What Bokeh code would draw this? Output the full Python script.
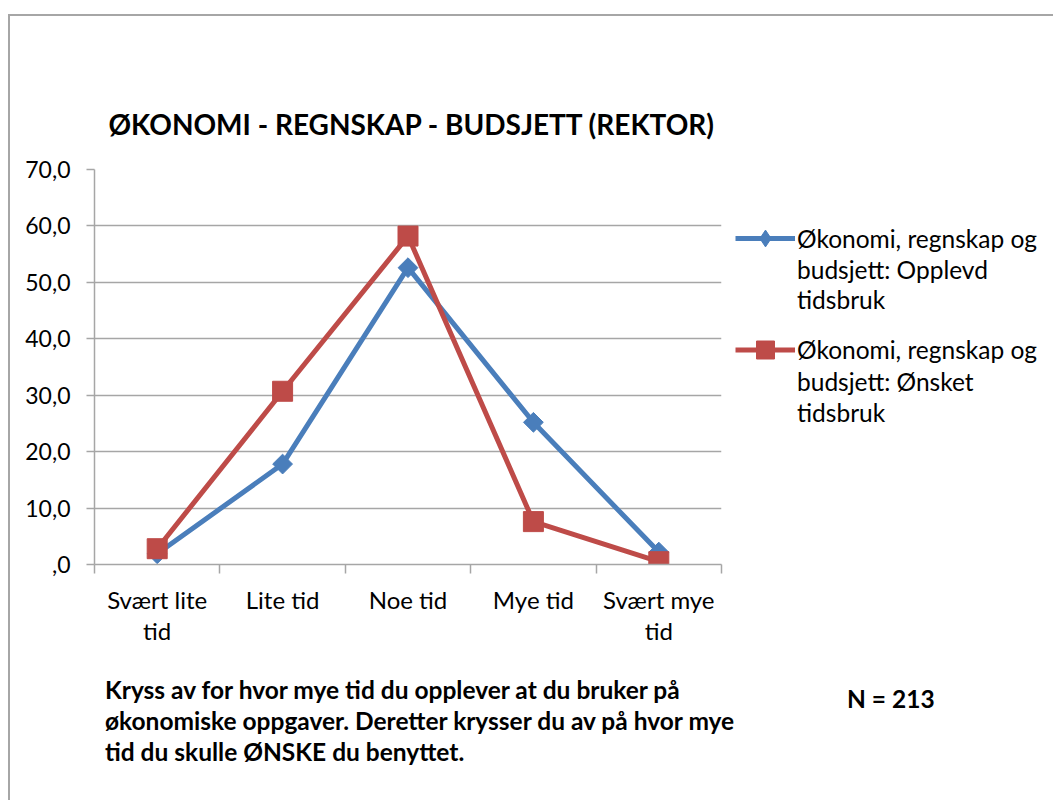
from bokeh.plotting import figure
from bokeh.models import Range1d, FixedTicker, Legend, LegendItem, Div
from bokeh.layouts import column, row
from bokeh.embed import file_html
from bokeh.resources import INLINE
import math

categories = ["Svært lite\ntid", "Lite tid", "Noe tid", "Mye tid", "Svært mye\ntid"]
opplevd = [1.9, 17.8, 52.6, 25.2, 2.2]
onsket = [2.8, 30.7, 58.2, 7.6, 0.5]
y_ticks = [0, 10, 20, 30, 40, 50, 60, 70]
y_labels = [",0", "10,0", "20,0", "30,0", "40,0", "50,0", "60,0", "70,0"]
title_text = "ØKONOMI - REGNSKAP - BUDSJETT (REKTOR)"
legend_opplevd = ["Økonomi, regnskap og", "budsjett: Opplevd", "tidsbruk"]
legend_onsket = ["Økonomi, regnskap og", "budsjett: Ønsket", "tidsbruk"]
note_lines = ["Kryss av for hvor mye tid du opplever at du bruker på",
              "økonomiske oppgaver. Deretter krysser du av på hvor mye",
              "tid du skulle ØNSKE du benyttet."]
n_text = "N = 213"

BLUE = "#4A7EBB"
RED = "#BE4B48"
GRID = "#A6A6A6"
FONT = "Lato"

xs = [i + 0.5 for i in range(len(categories))]

# ---------------- main chart ----------------
p = figure(width=721, height=650, output_backend="svg", toolbar_location=None,
           x_range=Range1d(0, len(categories)), y_range=Range1d(0, 70),
           min_border_left=84, min_border_right=10, min_border_top=153,
           min_border_bottom=102)
p.outline_line_color = None
p.background_fill_color = "white"
p.border_fill_color = "white"

p.title.text = title_text
p.title.align = "left"
p.title.offset = 14
p.title.standoff = 57
p.title.text_font = FONT
p.title.text_font_style = "bold"
p.title.text_font_size = "28px"
p.title.text_color = "#000000"

p.xaxis.ticker = FixedTicker(ticks=xs, minor_ticks=list(range(len(categories) + 1)))
p.xaxis.major_label_overrides = {x: c for x, c in zip(xs, categories)}
p.xaxis.major_tick_out = 0
p.xaxis.major_tick_in = 0
p.xaxis.minor_tick_out = 9
p.xaxis.minor_tick_in = 0
p.xaxis.minor_tick_line_color = GRID
p.xaxis.minor_tick_line_width = 1.5
p.xaxis.axis_line_color = GRID
p.xaxis.axis_line_width = 1.5
p.xaxis.major_label_standoff = 11
p.xaxis.major_label_text_font = FONT
p.xaxis.major_label_text_font_size = "24px"
p.xaxis.major_label_text_color = "#000000"
p.xaxis.major_label_text_line_height = 1.1

p.yaxis.ticker = FixedTicker(ticks=y_ticks, minor_ticks=[])
p.yaxis.major_label_overrides = {t: l for t, l in zip(y_ticks, y_labels)}
p.yaxis.major_tick_out = 8
p.yaxis.major_tick_in = 0
p.yaxis.major_tick_line_color = GRID
p.yaxis.major_tick_line_width = 1.5
p.yaxis.axis_line_color = GRID
p.yaxis.axis_line_width = 1.5
p.yaxis.major_label_standoff = 16
p.yaxis.major_label_text_font = FONT
p.yaxis.major_label_text_font_size = "23px"
p.yaxis.major_label_text_color = "#000000"

p.xgrid.visible = False
p.ygrid.ticker = FixedTicker(ticks=y_ticks)
p.ygrid.grid_line_color = GRID
p.ygrid.grid_line_width = 1.5

p.line(xs, opplevd, line_color=BLUE, line_width=5)
p.scatter(xs, opplevd, marker="square", angle=math.pi / 4, size=14,
          fill_color=BLUE, line_color=BLUE)
p.line(xs, onsket, line_color=RED, line_width=5)
p.scatter(xs, onsket, marker="square", size=20, fill_color=RED, line_color=RED)

# ---------------- legend panel ----------------
# The series are repeated here only so that the legend can draw their glyphs;
# the view range is set away from the data, so nothing but the legend shows.
lf = figure(width=322, height=650, output_backend="svg", toolbar_location=None,
            x_axis_type=None, y_axis_type=None, min_border=0,
            x_range=Range1d(-20, -19), y_range=Range1d(-20, -19))
lf.outline_line_color = None
lf.xgrid.visible = False
lf.ygrid.visible = False
lf.border_fill_color = "white"

bl = lf.line(xs, opplevd, line_color=BLUE, line_width=5)
bm = lf.scatter(xs, opplevd, marker="diamond", size=19, fill_color=BLUE, line_color=BLUE)
rl = lf.line(xs, onsket, line_color=RED, line_width=5)
rm = lf.scatter(xs, onsket, marker="square", size=17, fill_color=RED, line_color=RED)
blank = lf.line([], [], line_alpha=0)


def make_legend(lines, rends, loc, row_h):
    items = [LegendItem(label=t, renderers=rends) for t in lines]
    lg = Legend(items=items, location=loc, orientation="vertical")
    lg.glyph_width = 60
    lg.glyph_height = row_h
    lg.label_height = row_h
    lg.label_standoff = 2
    lg.spacing = 0
    lg.padding = 0
    lg.margin = 0
    lg.border_line_alpha = 0
    lg.background_fill_alpha = 0
    lg.label_text_font = FONT
    lg.label_text_font_size = "24.5px"
    lg.label_text_color = "#000000"
    return lg


# first row of each entry carries the glyph (taller box -> larger marker)
lf.add_layout(make_legend(legend_opplevd[:1], [bl, bm], (4, 305), 42))
lf.add_layout(make_legend(legend_opplevd[1:], [blank], (4, 250), 30))
lf.add_layout(make_legend(legend_onsket[:1], [rl, rm], (4, 192), 45))
lf.add_layout(make_legend(legend_onsket[1:], [blank], (4, 136), 31))

# ---------------- footer text ----------------
note_html = "<br>".join(note_lines)
footer = Div(
    width=1043, height=130,
    text=(f'<div style="position:relative;width:1043px;height:130px;'
          f'font-family:{FONT};font-weight:bold;font-size:24.5px;color:#000;">'
          f'<div style="position:absolute;left:90px;top:3px;line-height:31px;'
          f'white-space:nowrap;">{note_html}</div>'
          f'<div style="position:absolute;left:832px;top:12px;line-height:31px;">'
          f'{n_text}</div></div>'))

layout = column(row(p, lf, spacing=0), footer, spacing=0,
                styles={"margin-top": "14px", "margin-left": "8px",
                        "border-top": "2px solid #A6A6A6",
                        "border-left": "2px solid #A6A6A6"})

open("out.html", "w").write(file_html(layout, INLINE))
